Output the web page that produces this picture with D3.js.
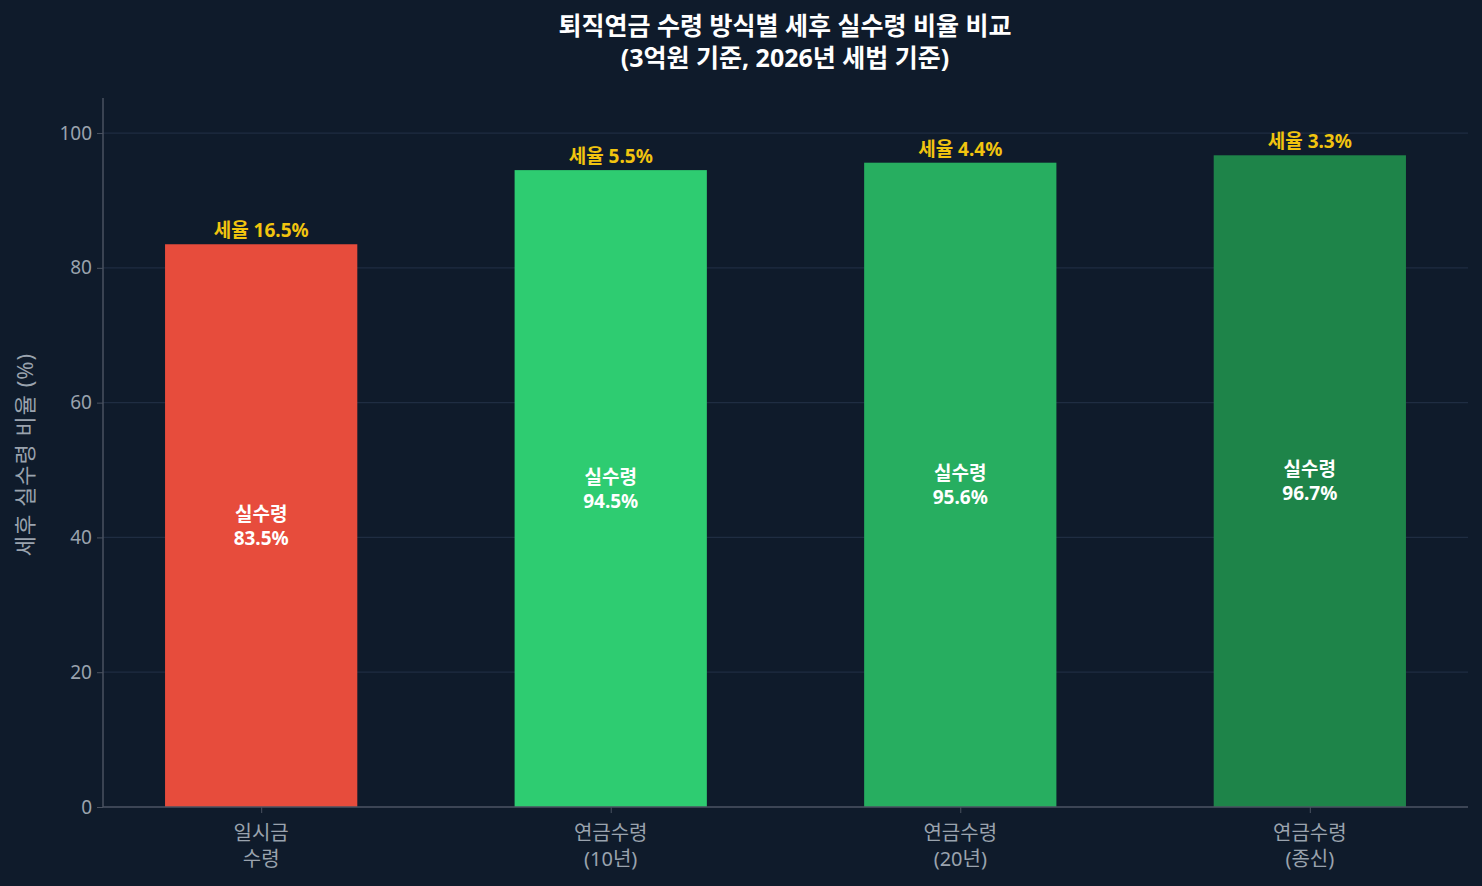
<!DOCTYPE html>
<html><head><meta charset="utf-8">
<script src="https://cdn.jsdelivr.net/npm/d3@7"></script>
<style>body{margin:0;background:#0f1b2b;}text{font-family:"Noto Sans","Noto Sans CJK KR",sans-serif;}</style>
</head><body><svg id="c" width="1482" height="886"></svg>
<script>
const categories = [["일시금", "수령"], ["연금수령", "(10년)"], ["연금수령", "(20년)"], ["연금수령", "(종신)"]];
const netRatio = [83.5, 94.5, 95.6, 96.7];
const taxRate = [16.5, 5.5, 4.4, 3.3];
const barColors = ["#e74c3c", "#2ecc71", "#27ae60", "#1e8449"];
const yTicks = [0, 20, 40, 60, 80, 100];

const svg = d3.select("#c");
svg.append("rect").attr("width", 1482).attr("height", 886).attr("fill", "#0f1b2b");
const L = 103, R = 1468, T = 98, B = 807;
const x = d3.scaleLinear().domain([-0.4525, 3.4525]).range([L, R]);
const y = d3.scaleLinear().domain([0, 105.2]).range([B, T]);
const bw = x(0.55) - x(0);

// grid
svg.selectAll(".g").data(yTicks).join("line")
  .attr("x1", L).attr("x2", R).attr("y1", d => y(d)).attr("y2", d => y(d))
  .attr("stroke", "#1f2d42").attr("stroke-width", 1.2);

// bars
svg.selectAll(".bar").data(netRatio).join("rect")
  .attr("x", (d, i) => x(i) - bw / 2).attr("width", bw)
  .attr("y", d => y(d)).attr("height", d => B - y(d))
  .attr("fill", (d, i) => barColors[i]);

// labels
netRatio.forEach((d, i) => {
  [["실수령", -5], [d.toFixed(1) + "%", 19]].forEach(([s, dy]) => {
    svg.append("text").attr("x", x(i)).attr("y", y(d / 2) + dy).attr("text-anchor", "middle")
      .attr("fill", "#fff").attr("font-size", 19).attr("font-weight", "bold").text(s);
  });
  svg.append("text").attr("x", x(i)).attr("y", y(d) - 7).attr("text-anchor", "middle")
    .attr("fill", "#f1c40f").attr("font-size", 19).attr("font-weight", "bold")
    .text("세율 " + taxRate[i] + "%");
});

// axes
const ax = svg.append("g").attr("transform", `translate(${L},0)`)
  .call(d3.axisLeft(y).tickValues(yTicks).tickSize(6));
const bx = svg.append("g").attr("transform", `translate(0,${B})`)
  .call(d3.axisBottom(x).tickValues([0, 1, 2, 3]).tickSize(6).tickFormat(""));
[ax, bx].forEach(g => {
  g.select(".domain").attr("stroke", "#4a5260").attr("stroke-width", 1.5);
  g.selectAll(".tick line").attr("stroke", "#4a5260");
});
ax.selectAll(".tick text").attr("fill", "#9aa3ae").attr("font-size", 19).attr("dx", -2)
  .style("font-family", "Noto Sans");
ax.select(".domain").attr("d", `M0,${T}V${B}`);
bx.select(".domain").attr("d", `M${L},0H${R}`);
categories.forEach((c, i) => {
  c.forEach((s, k) => {
    svg.append("text").attr("x", x(i)).attr("y", 840 + k * 26).attr("text-anchor", "middle")
      .attr("fill", "#9aa3ae").attr("font-size", 20).text(s);
  });
});

svg.append("text").attr("transform", `translate(33,${(T + B) / 2 + 2}) rotate(-90)`)
  .attr("text-anchor", "middle").attr("fill", "#9aa3ae").attr("font-size", 22)
  .attr("letter-spacing", 1).text("세후 실수령 비율 (%)");

["퇴직연금 수령 방식별 세후 실수령 비율 비교", "(3억원 기준, 2026년 세법 기준)"].forEach((s, k) => {
  svg.append("text").attr("x", 785).attr("y", 35 + k * 32).attr("text-anchor", "middle")
    .attr("fill", "#fff").attr("font-size", 25).attr("font-weight", "bold").text(s);
});
</script></body></html>
